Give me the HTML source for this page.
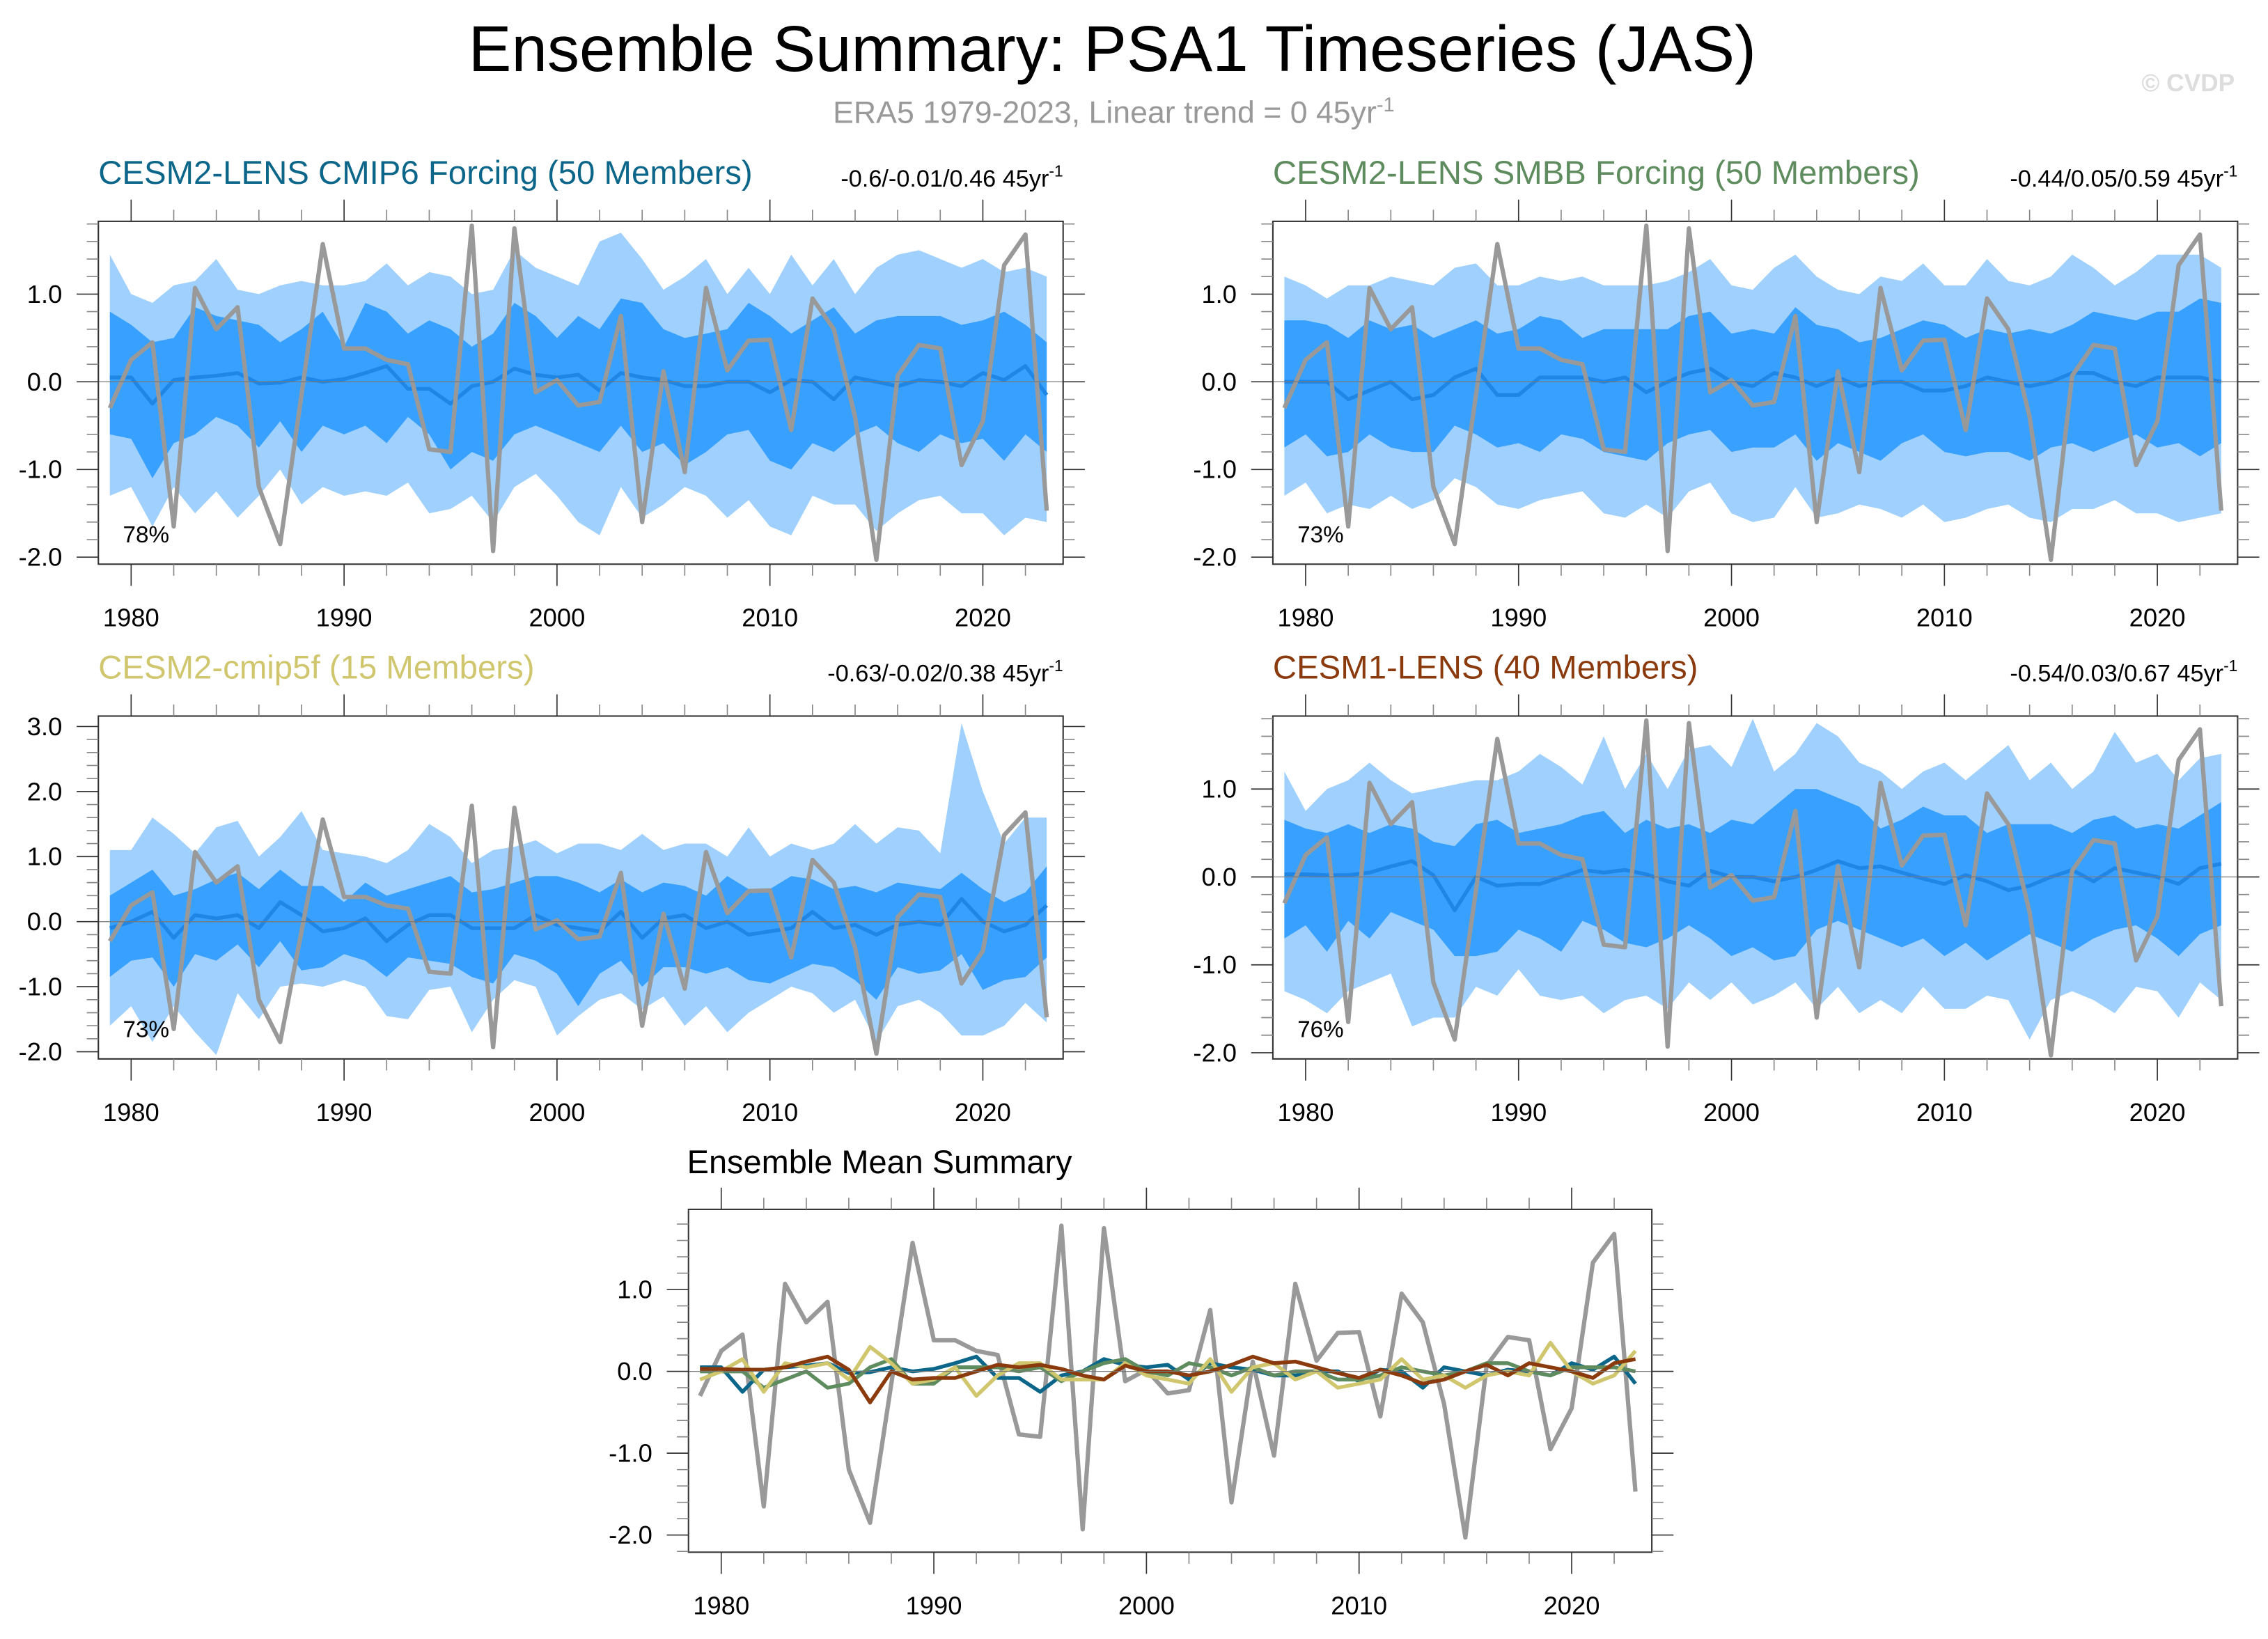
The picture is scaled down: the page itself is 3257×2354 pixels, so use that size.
<!DOCTYPE html>
<html><head><meta charset="utf-8"><style>
html,body{margin:0;padding:0;background:#fff;}
svg{display:block;font-family:"Liberation Sans",sans-serif;}
</style></head><body>
<svg id="fig" width="3257" height="2354" viewBox="0 0 1568 1133" preserveAspectRatio="none" xmlns="http://www.w3.org/2000/svg">
<rect width="1568" height="1133" fill="#fff"/>
<text x="769" y="49" font-size="44.5" text-anchor="middle" fill="#000">Ensemble Summary: PSA1 Timeseries (JAS)</text>
<text x="770" y="85" font-size="21.5" text-anchor="middle" fill="#999">ERA5 1979-2023, Linear trend = 0 45yr<tspan font-size="14" dy="-8">-1</tspan></text>
<text x="1545" y="63" font-size="17" font-weight="bold" text-anchor="end" fill="#ddd">© CVDP</text>
<g id="plots"></g>
</svg>
<script>
const years = []; for (let y = 1979; y <= 2023; y++) years.push(y);
const era5 = [-0.3,0.25,0.45,-1.65,1.07,0.6,0.85,-1.2,-1.85,-0.15,1.57,0.38,0.38,0.25,0.2,-0.77,-0.8,1.78,-1.93,1.75,-0.12,0.02,-0.27,-0.23,0.75,-1.6,0.12,-1.03,1.07,0.13,0.47,0.48,-0.55,0.95,0.6,-0.4,-2.03,0.07,0.42,0.38,-0.95,-0.45,1.33,1.68,-1.47];

const cmip6Mean = [0.05,0.05,-0.25,0.02,0.05,0.07,0.1,-0.02,-0.01,0.05,0.0,0.03,0.1,0.18,-0.08,-0.08,-0.25,-0.05,0.0,0.15,0.08,0.05,0.08,-0.1,0.1,0.05,0.02,-0.05,-0.05,0.0,0.0,-0.12,0.02,0.0,-0.2,0.05,0.0,-0.05,0.02,0.0,-0.05,0.1,0.02,0.18,-0.15];
const cmip6DarkUp = [0.8,0.65,0.45,0.5,0.85,0.75,0.7,0.65,0.45,0.6,0.8,0.4,0.9,0.8,0.55,0.7,0.6,0.4,0.55,0.9,0.75,0.5,0.75,0.6,0.95,0.9,0.6,0.5,0.55,0.6,0.9,0.75,0.55,0.7,0.85,0.55,0.7,0.75,0.75,0.75,0.65,0.7,0.8,0.65,0.45];
const cmip6DarkLo = [-0.6,-0.65,-1.1,-0.7,-0.6,-0.4,-0.5,-0.75,-0.45,-0.8,-0.5,-0.6,-0.5,-0.7,-0.4,-0.6,-1.0,-0.8,-0.9,-0.6,-0.5,-0.6,-0.7,-0.8,-0.5,-0.8,-0.7,-0.95,-0.8,-0.6,-0.55,-0.9,-1.0,-0.7,-0.8,-0.6,-0.5,-0.7,-0.8,-0.6,-0.7,-0.65,-0.9,-0.6,-0.8];
const cmip6LightUp = [1.45,1.0,0.9,1.1,1.15,1.4,1.05,1.0,1.1,1.15,1.1,1.1,1.15,1.35,1.1,1.25,1.2,1.0,1.05,1.5,1.3,1.2,1.1,1.6,1.7,1.4,1.05,1.2,1.4,1.0,1.3,1.0,1.45,1.1,1.4,1.0,1.3,1.45,1.5,1.4,1.3,1.4,1.25,1.3,1.2];
const cmip6LightLo = [-1.3,-1.2,-1.65,-1.2,-1.5,-1.25,-1.55,-1.3,-1.0,-1.4,-1.2,-1.3,-1.25,-1.3,-1.15,-1.5,-1.45,-1.3,-1.6,-1.2,-1.05,-1.3,-1.6,-1.75,-1.2,-1.55,-1.4,-1.2,-1.3,-1.55,-1.35,-1.65,-1.75,-1.3,-1.4,-1.4,-1.7,-1.5,-1.35,-1.3,-1.5,-1.5,-1.75,-1.55,-1.6];

const smbbMean = [0.0,0.0,0.0,-0.2,-0.1,0.0,-0.2,-0.15,0.05,0.15,-0.15,-0.15,0.05,0.05,0.05,0.0,0.05,-0.12,0.0,0.1,0.15,0.0,-0.05,0.1,0.05,-0.05,0.05,-0.05,0.0,0.0,-0.1,-0.1,-0.05,0.05,0.0,-0.05,0.0,0.1,0.1,0.0,-0.05,0.05,0.05,0.05,0.0];
const smbbDarkUp = [0.7,0.7,0.65,0.5,0.7,0.6,0.65,0.5,0.6,0.7,0.55,0.6,0.75,0.7,0.5,0.6,0.6,0.6,0.6,0.75,0.8,0.55,0.6,0.55,0.85,0.65,0.6,0.45,0.5,0.6,0.7,0.65,0.5,0.6,0.55,0.6,0.55,0.65,0.8,0.75,0.7,0.8,0.8,0.95,0.9];
const smbbDarkLo = [-0.75,-0.6,-0.85,-0.8,-0.6,-0.75,-0.8,-0.8,-0.5,-0.6,-0.75,-0.7,-0.8,-0.6,-0.65,-0.8,-0.85,-0.9,-0.7,-0.6,-0.55,-0.8,-0.75,-0.75,-0.6,-0.9,-0.7,-0.8,-0.9,-0.7,-0.6,-0.8,-0.85,-0.8,-0.8,-0.9,-0.75,-0.7,-0.8,-0.7,-0.6,-0.75,-0.7,-0.85,-0.7];
const smbbLightUp = [1.2,1.1,0.95,1.1,1.1,1.2,1.15,1.1,1.3,1.35,1.1,1.1,1.2,1.15,1.2,1.1,1.1,1.1,1.15,1.25,1.4,1.1,1.05,1.3,1.45,1.2,1.05,1.0,1.2,1.15,1.35,1.1,1.1,1.4,1.15,1.1,1.2,1.45,1.3,1.1,1.25,1.45,1.45,1.45,1.3];
const smbbLightLo = [-1.3,-1.15,-1.5,-1.4,-1.45,-1.3,-1.45,-1.35,-1.1,-1.2,-1.4,-1.45,-1.35,-1.3,-1.25,-1.5,-1.55,-1.4,-1.55,-1.25,-1.15,-1.5,-1.6,-1.55,-1.2,-1.55,-1.5,-1.4,-1.45,-1.55,-1.4,-1.6,-1.55,-1.45,-1.4,-1.55,-1.6,-1.45,-1.45,-1.35,-1.5,-1.5,-1.6,-1.55,-1.5];

const c5Mean = [-0.1,0.0,0.15,-0.25,0.1,0.05,0.1,-0.1,0.3,0.1,-0.15,-0.1,0.05,-0.3,-0.05,0.1,0.1,-0.1,-0.1,-0.1,0.1,-0.05,-0.1,-0.15,0.15,-0.25,0.05,0.1,-0.1,0.0,-0.2,-0.15,-0.1,0.15,-0.1,-0.05,-0.2,-0.05,0.0,-0.05,0.35,0.0,-0.15,-0.05,0.25];
const c5DarkUp = [0.4,0.6,0.8,0.4,0.5,0.65,0.75,0.5,0.8,0.55,0.55,0.3,0.6,0.4,0.5,0.6,0.7,0.45,0.5,0.6,0.7,0.7,0.6,0.45,0.65,0.45,0.6,0.55,0.4,0.7,0.5,0.5,0.7,0.65,0.5,0.55,0.45,0.6,0.55,0.5,0.75,0.5,0.3,0.45,0.85];
const c5DarkLo = [-0.85,-0.6,-0.55,-1.0,-0.5,-0.6,-0.35,-0.7,-0.3,-0.75,-0.7,-0.5,-0.6,-0.85,-0.55,-0.6,-0.65,-0.85,-0.95,-0.5,-0.6,-0.8,-1.3,-0.8,-0.6,-1.0,-0.7,-0.7,-0.8,-0.7,-0.9,-0.95,-0.8,-0.65,-0.7,-0.9,-1.2,-0.7,-0.8,-0.75,-0.5,-1.05,-0.9,-0.85,-0.55];
const c5LightUp = [1.1,1.1,1.6,1.35,1.05,1.45,1.55,1.0,1.3,1.7,1.1,1.05,1.0,0.9,1.1,1.5,1.3,0.9,1.1,1.15,1.25,1.05,1.2,1.2,1.1,1.35,1.1,1.2,1.2,1.0,1.45,1.0,1.2,1.1,1.2,1.5,1.2,1.45,1.4,1.05,3.05,2.0,1.2,1.6,1.6];
const c5LightLo = [-1.6,-1.3,-1.85,-1.3,-1.7,-2.05,-1.1,-1.5,-1.0,-0.95,-1.0,-0.9,-1.0,-1.45,-1.5,-1.05,-1.0,-1.7,-1.2,-0.9,-1.0,-1.75,-1.45,-1.2,-1.1,-1.35,-1.15,-1.6,-1.3,-1.7,-1.4,-1.2,-1.0,-1.1,-1.4,-1.2,-1.85,-1.3,-1.2,-1.4,-1.75,-1.75,-1.6,-1.25,-1.55];

const c1Mean = [0.03,0.03,0.02,0.02,0.05,0.12,0.18,0.02,-0.38,0.0,-0.1,-0.08,-0.08,0.0,0.08,0.05,0.08,0.03,-0.05,-0.1,0.07,0.0,0.0,-0.05,0.0,0.08,0.18,0.1,0.12,0.05,-0.02,-0.08,0.02,-0.05,-0.15,-0.1,0.0,0.08,-0.05,0.1,0.05,0.0,-0.08,0.1,0.15];
const c1DarkUp = [0.65,0.55,0.5,0.6,0.5,0.6,0.55,0.4,0.35,0.6,0.65,0.5,0.55,0.6,0.7,0.75,0.5,0.65,0.55,0.6,0.5,0.65,0.6,0.8,1.0,1.0,0.9,0.8,0.55,0.65,0.8,0.7,0.7,0.5,0.6,0.6,0.6,0.5,0.65,0.7,0.55,0.6,0.55,0.7,0.85];
const c1DarkLo = [-0.7,-0.55,-0.85,-0.5,-0.7,-0.4,-0.5,-0.6,-0.9,-0.9,-0.85,-0.6,-0.7,-0.85,-0.5,-0.6,-0.75,-0.8,-0.7,-0.55,-0.7,-0.9,-0.8,-0.95,-0.9,-0.6,-0.5,-0.6,-0.7,-0.8,-0.7,-0.9,-0.75,-0.95,-0.8,-0.65,-0.75,-0.85,-0.7,-0.6,-0.55,-0.7,-0.9,-0.65,-0.55];
const c1LightUp = [1.2,0.75,1.0,1.1,1.3,1.1,0.95,1.0,1.05,1.1,1.1,1.2,1.4,1.25,1.05,1.6,1.0,1.4,1.0,1.45,1.5,1.25,1.8,1.2,1.4,1.75,1.6,1.3,1.2,1.0,1.2,1.3,1.1,1.3,1.5,1.1,1.3,1.0,1.2,1.65,1.3,1.4,1.1,1.35,1.4];
const c1LightLo = [-1.3,-1.4,-1.55,-1.3,-1.2,-1.1,-1.7,-1.6,-1.6,-1.25,-1.35,-1.05,-1.35,-1.4,-1.35,-1.55,-1.4,-1.35,-1.5,-1.2,-1.4,-1.2,-1.45,-1.35,-1.2,-1.5,-1.25,-1.55,-1.4,-1.55,-1.25,-1.5,-1.5,-1.35,-1.4,-1.85,-1.4,-1.3,-1.4,-1.55,-1.25,-1.3,-1.6,-1.2,-1.4];

const xTickYears = [1980,1990,2000,2010,2020];
const yTicksStd = [-2,-1,0,1];
const yTicksC5 = [-2,-1,0,1,2,3];
const titles = ["CESM2-LENS CMIP6 Forcing (50 Members)","CESM2-LENS SMBB Forcing (50 Members)","CESM2-cmip5f (15 Members)","CESM1-LENS (40 Members)"];
const trends = ["-0.6/-0.01/0.46","-0.44/0.05/0.59","-0.63/-0.02/0.38","-0.54/0.03/0.67"];
const pcts = ["78%","73%","73%","76%"];
const modelColors = ["#0b6689","#5e8c5e","#cfc66d","#8a3a0c"];

const NS = "http://www.w3.org/2000/svg";
const root = document.getElementById('plots');
function mk(tag, attrs, parent) {
  const e = document.createElementNS(NS, tag);
  for (const k in attrs) e.setAttribute(k, attrs[k]);
  (parent || root).appendChild(e);
  return e;
}

function makePanel(name, box, ymin, ymax, yTicks) {
  const g = mk('g', {});
  
  
  const xmin = 1978.46, xmax = 2023.77;
  const sx = v => box.x0 + (v - xmin) / (xmax - xmin) * (box.x1 - box.x0);
  const sy = v => box.y1 - (v - ymin) / (ymax - ymin) * (box.y1 - box.y0);
  return {g, sx, sy, box, ymin, ymax, yTicks};
}

function band(p, up, lo, color, name) {
  let d = '';
  years.forEach((y, i) => { d += (i ? 'L' : 'M') + p.sx(y).toFixed(2) + ',' + p.sy(up[i]).toFixed(2); });
  for (let i = years.length - 1; i >= 0; i--) d += 'L' + p.sx(years[i]).toFixed(2) + ',' + p.sy(lo[i]).toFixed(2);
  const e = mk('path', {d: d + 'Z', fill: color, stroke: 'none'}, p.g);
  
  
}
function line(p, vals, color, w, name) {
  const d = years.map((y, i) => (i ? 'L' : 'M') + p.sx(y).toFixed(2) + ',' + p.sy(vals[i]).toFixed(2)).join('');
  const e = mk('path', {d, fill: 'none', stroke: color, 'stroke-width': w, 'stroke-linejoin': 'round'}, p.g);
  
  
}
function axes(p) {
  const b = p.box;
  mk('line', {x1: b.x0, x2: b.x1, y1: p.sy(0), y2: p.sy(0), stroke: '#777', 'stroke-width': 0.6}, p.g);
  const fr = mk('rect', {x: b.x0, y: b.y0, width: b.x1 - b.x0, height: b.y1 - b.y0, fill: 'none', stroke: '#333', 'stroke-width': 1}, p.g);
  
  
  for (let y = 1978; y <= 2023; y += 2) {
    const x = p.sx(y); if (x < b.x0) continue;
    const major = y % 10 === 0;
    const L = major ? 15 : 8;
    mk('line', {x1: x, x2: x, y1: b.y1, y2: b.y1 + L, stroke: major ? '#333' : '#888', 'stroke-width': 0.8}, p.g);
    mk('line', {x1: x, x2: x, y1: b.y0, y2: b.y0 - L, stroke: major ? '#333' : '#888', 'stroke-width': 0.8}, p.g);
  }
  for (let k = Math.ceil(p.ymin * 5); k <= Math.floor(p.ymax * 5); k++) {
    const y = p.sy(k / 5); const major = k % 5 === 0; const L = major ? 15 : 8;
    mk('line', {x1: b.x0, x2: b.x0 - L, y1: y, y2: y, stroke: major ? '#333' : '#888', 'stroke-width': 0.8}, p.g);
    mk('line', {x1: b.x1, x2: b.x1 + L, y1: y, y2: y, stroke: major ? '#333' : '#888', 'stroke-width': 0.8}, p.g);
  }
  xTickYears.forEach(t => {
    const e = mk('text', {x: p.sx(t), y: b.y1 + 43, 'font-size': 17.5, 'text-anchor': 'middle'}, p.g);
    
    
    e.textContent = t;
  });
  p.yTicks.forEach(t => {
    const e = mk('text', {x: b.x0 - 25, y: p.sy(t) + 6, 'font-size': 17.5, 'text-anchor': 'end'}, p.g);
    
    
    e.textContent = t.toFixed(1);
  });
}

const boxes = [
  {x0: 68, x1: 735, y0: 153, y1: 390, ymin: -2.08, ymax: 1.83, yt: yTicksStd},
  {x0: 880, x1: 1547, y0: 153, y1: 390, ymin: -2.08, ymax: 1.83, yt: yTicksStd},
  {x0: 68, x1: 735, y0: 495, y1: 732, ymin: -2.11, ymax: 3.16, yt: yTicksC5},
  {x0: 880, x1: 1547, y0: 495, y1: 732, ymin: -2.07, ymax: 1.83, yt: yTicksStd}
];
const data = [
  [cmip6Mean, cmip6DarkUp, cmip6DarkLo, cmip6LightUp, cmip6LightLo],
  [smbbMean, smbbDarkUp, smbbDarkLo, smbbLightUp, smbbLightLo],
  [c5Mean, c5DarkUp, c5DarkLo, c5LightUp, c5LightLo],
  [c1Mean, c1DarkUp, c1DarkLo, c1LightUp, c1LightLo]
];
boxes.forEach((bx, i) => {
  const p = makePanel('panel-' + (i + 1), bx, bx.ymin, bx.ymax, bx.yt);
  const [m, du, dl, lu, ll] = data[i];
  band(p, lu, ll, '#9fd0fe', 'light-spread-band');
  band(p, du, dl, '#38a1ff', 'dark-spread-band');
  line(p, m, '#1f86e6', 2.6, 'ensemble-mean-line');
  line(p, era5, '#999', 3, 'era5-line');
  axes(p);
  const t = mk('text', {x: bx.x0, y: bx.y0 - 26, 'font-size': 22.8, fill: modelColors[i]}, p.g);
  
  
  t.textContent = titles[i];
  const tr = mk('text', {x: bx.x1, y: bx.y0 - 24, 'font-size': 16.5, 'text-anchor': 'end'}, p.g);
  
  
  tr.innerHTML = trends[i] + ' 45yr<tspan font-size="11" dy="-7">-1</tspan>';
  const pc = mk('text', {x: bx.x0 + 17, y: bx.y1 - 15, 'font-size': 16}, p.g);
  
  
  pc.textContent = pcts[i];
});

const sb = {x0: 476, x1: 1142, y0: 836, y1: 1073};
const ps = makePanel('ensemble-mean-summary-panel', sb, -2.21, 1.98, yTicksStd);
line(ps, era5, '#999', 3, 'era5-line');
line(ps, cmip6Mean, modelColors[0], 2.6, 'cmip6-mean-line');
line(ps, smbbMean, modelColors[1], 2.6, 'smbb-mean-line');
line(ps, c5Mean, modelColors[2], 2.6, 'cmip5f-mean-line');
line(ps, c1Mean, modelColors[3], 2.6, 'cesm1-mean-line');
axes(ps);
const st = mk('text', {x: 475, y: 811, 'font-size': 22.6}, ps.g);


st.textContent = 'Ensemble Mean Summary';
</script>
</body></html>
